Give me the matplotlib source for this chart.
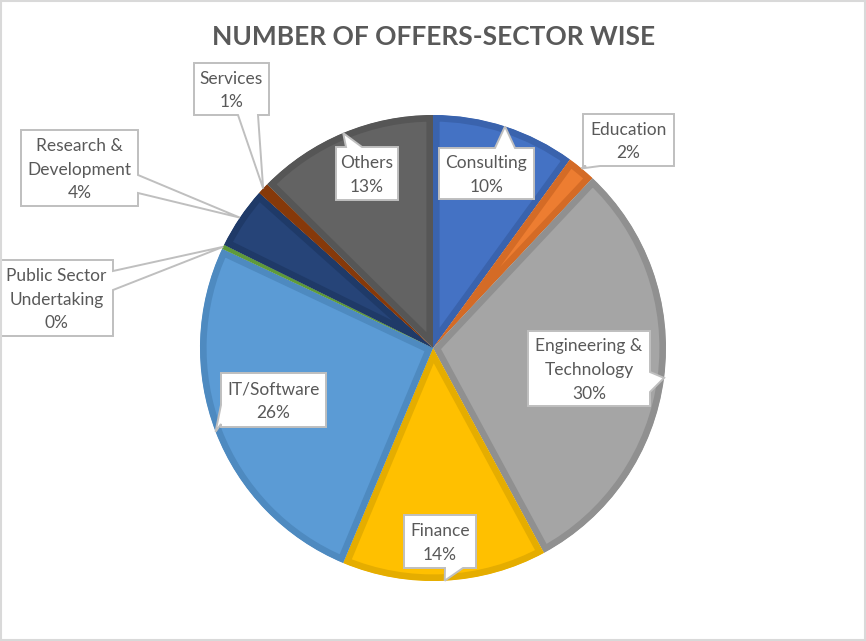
import matplotlib
matplotlib.use("Agg")
import matplotlib.pyplot as plt
from matplotlib.patches import Polygon, Rectangle
import numpy as np

plt.rcParams['font.family'] = ['Lato', 'DejaVu Sans']

# 各行业offer占比（%）
sectors = ["Consulting", "Education", "Engineering &\nTechnology", "Finance", "IT/Software",
           "Public Sector\nUndertaking", "Research &\nDevelopment", "Services", "Others"]
shares = [10.0, 2.0, 30.1, 14.2, 25.7, 0.3, 4.3, 0.8, 12.6]
colors = ["#4472C4", "#ED7D31", "#A5A5A5", "#FFC000", "#5B9BD5",
          "#70AD47", "#264478", "#9E480E", "#636363"]
edges = ["#3A63AD", "#D46B26", "#909090", "#E5AD00", "#4E8AC0",
         "#5F9A3A", "#1F3A68", "#86390A", "#565656"]

# 标签框位置 (x0, y0, x1, y1), 指针所在边, 指针底边范围
boxes = [
    ((439, 148, 534, 199), "top", (495, 515)),
    ((583, 114, 674, 166), "bottom", (586, 600)),
    ((528, 331, 650, 406), "right", (372, 392)),
    ((404, 515, 476, 568), "bottom", (445, 463)),
    ((221, 373, 326, 427), "left", (405, 424)),
    ((0, 260, 113, 336), "right", (271, 290)),
    ((21, 130, 138, 206), "right", (175, 193)),
    ((194, 63, 269, 115), "bottom", (238, 258)),
    ((336, 147, 398, 200), "top", (346, 362)),
]

W, H = 866, 641
cx, cy, R = 433, 348, 233
txt_color = "#595959"

fig = plt.figure(figsize=(W / 100, H / 100), dpi=100)
ax = fig.add_axes([0, 0, 1, 1])

# y轴倒置，startangle=-90 + counterclock 视觉上是从12点顺时针
wedges, _ = ax.pie(shares, colors=colors, startangle=-90, counterclock=True,
                   center=(cx, cy), radius=R, frame=True)
for w, ec in zip(wedges, edges):
    w.set_edgecolor(ec)
    w.set_linewidth(9.5)
    w.set_clip_on(True)
    w.set_clip_path(w)  # 只保留内侧描边
ax.set_xlim(0, W)
ax.set_ylim(H, 0)
ax.set_aspect("equal")
ax.axis("off")


def bubble(rect, side, base, tip):
    x0, y0, x1, y1 = rect
    b1, b2 = base
    if side == "top":
        pts = [(x0, y0), (b1, y0), tip, (b2, y0), (x1, y0), (x1, y1), (x0, y1)]
    elif side == "right":
        pts = [(x0, y0), (x1, y0), (x1, b1), tip, (x1, b2), (x1, y1), (x0, y1)]
    elif side == "bottom":
        pts = [(x0, y0), (x1, y0), (x1, y1), (b2, y1), tip, (b1, y1), (x0, y1)]
    else:
        pts = [(x0, y0), (x1, y0), (x1, y1), (x0, y1), (x0, b2), tip, (x0, b1)]
    return Polygon(pts, closed=True, facecolor="white", edgecolor="#BFBFBF",
                   linewidth=1.4, zorder=5, joinstyle="miter")


for w, name, val, (rect, side, base) in zip(wedges, sectors, shares, boxes):
    mid = np.deg2rad((w.theta1 + w.theta2) / 2)
    tip = (cx + R * np.cos(mid), cy + R * np.sin(mid))
    ax.add_patch(bubble(rect, side, base, tip))
    x0, y0, x1, y1 = rect
    ax.text((x0 + x1) / 2, (y0 + y1) / 2 + 1.5, f"{name}\n{round(val)}%",
            ha="center", va="center", fontsize=12.5, color=txt_color,
            linespacing=1.6, zorder=6)

ax.text(W / 2 + 0.5, 37, "NUMBER OF OFFERS-SECTOR WISE", ha="center", va="center",
        fontsize=19, fontweight="bold", color=txt_color)

# 外框
ax.add_patch(Rectangle((1, 1), W - 2, H - 2, fill=False, edgecolor="#D9D9D9",
                       linewidth=1.5, zorder=10))

fig.savefig("out.png", dpi=100)
